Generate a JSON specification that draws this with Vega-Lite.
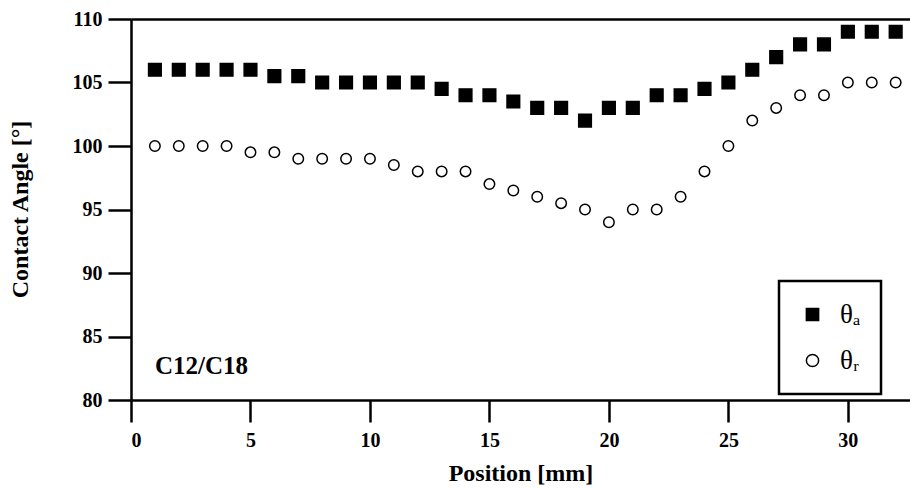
{
  "$schema": "https://vega.github.io/schema/vega-lite/v6.json",
  "width": 779,
  "height": 381,
  "autosize": "none",
  "padding": {"left": 131, "top": 19, "right": 0, "bottom": 88},
  "background": "white",
  "config": {
    "view": {"stroke": null},
    "font": "Liberation Serif",
    "axis": {
      "domainColor": "black", "domainWidth": 2.5, "tickColor": "black", "tickWidth": 2.5,
      "labelColor": "black", "labelFont": "Liberation Serif", "labelFontWeight": "bold", "labelFontSize": 20,
      "titleColor": "black", "titleFont": "Liberation Serif", "titleFontWeight": "bold", "titleFontSize": 24,
      "grid": false
    },
    "legend": {
      "strokeColor": "black", "strokeWidth": 2.5, "fillColor": "white",
      "padding": 20, "rowPadding": 18, "labelFont": "Liberation Serif", "labelFontSize": 27, "labelColor": "black",
      "symbolSize": 150, "symbolStrokeColor": "black", "symbolStrokeWidth": 1.5, "labelOffset": 14
    }
  },
  "datasets": {
    "angles": [
      {"pos": 1, "angle": 106, "series": "θₐ"}, {"pos": 2, "angle": 106, "series": "θₐ"}, {"pos": 3, "angle": 106, "series": "θₐ"},
      {"pos": 4, "angle": 106, "series": "θₐ"}, {"pos": 5, "angle": 106, "series": "θₐ"}, {"pos": 6, "angle": 105.5, "series": "θₐ"},
      {"pos": 7, "angle": 105.5, "series": "θₐ"}, {"pos": 8, "angle": 105, "series": "θₐ"}, {"pos": 9, "angle": 105, "series": "θₐ"},
      {"pos": 10, "angle": 105, "series": "θₐ"}, {"pos": 11, "angle": 105, "series": "θₐ"}, {"pos": 12, "angle": 105, "series": "θₐ"},
      {"pos": 13, "angle": 104.5, "series": "θₐ"}, {"pos": 14, "angle": 104, "series": "θₐ"}, {"pos": 15, "angle": 104, "series": "θₐ"},
      {"pos": 16, "angle": 103.5, "series": "θₐ"}, {"pos": 17, "angle": 103, "series": "θₐ"}, {"pos": 18, "angle": 103, "series": "θₐ"},
      {"pos": 19, "angle": 102, "series": "θₐ"}, {"pos": 20, "angle": 103, "series": "θₐ"}, {"pos": 21, "angle": 103, "series": "θₐ"},
      {"pos": 22, "angle": 104, "series": "θₐ"}, {"pos": 23, "angle": 104, "series": "θₐ"}, {"pos": 24, "angle": 104.5, "series": "θₐ"},
      {"pos": 25, "angle": 105, "series": "θₐ"}, {"pos": 26, "angle": 106, "series": "θₐ"}, {"pos": 27, "angle": 107, "series": "θₐ"},
      {"pos": 28, "angle": 108, "series": "θₐ"}, {"pos": 29, "angle": 108, "series": "θₐ"}, {"pos": 30, "angle": 109, "series": "θₐ"},
      {"pos": 31, "angle": 109, "series": "θₐ"}, {"pos": 32, "angle": 109, "series": "θₐ"},
      {"pos": 1, "angle": 100, "series": "θᵣ"}, {"pos": 2, "angle": 100, "series": "θᵣ"}, {"pos": 3, "angle": 100, "series": "θᵣ"},
      {"pos": 4, "angle": 100, "series": "θᵣ"}, {"pos": 5, "angle": 99.5, "series": "θᵣ"}, {"pos": 6, "angle": 99.5, "series": "θᵣ"},
      {"pos": 7, "angle": 99, "series": "θᵣ"}, {"pos": 8, "angle": 99, "series": "θᵣ"}, {"pos": 9, "angle": 99, "series": "θᵣ"},
      {"pos": 10, "angle": 99, "series": "θᵣ"}, {"pos": 11, "angle": 98.5, "series": "θᵣ"}, {"pos": 12, "angle": 98, "series": "θᵣ"},
      {"pos": 13, "angle": 98, "series": "θᵣ"}, {"pos": 14, "angle": 98, "series": "θᵣ"}, {"pos": 15, "angle": 97, "series": "θᵣ"},
      {"pos": 16, "angle": 96.5, "series": "θᵣ"}, {"pos": 17, "angle": 96, "series": "θᵣ"}, {"pos": 18, "angle": 95.5, "series": "θᵣ"},
      {"pos": 19, "angle": 95, "series": "θᵣ"}, {"pos": 20, "angle": 94, "series": "θᵣ"}, {"pos": 21, "angle": 95, "series": "θᵣ"},
      {"pos": 22, "angle": 95, "series": "θᵣ"}, {"pos": 23, "angle": 96, "series": "θᵣ"}, {"pos": 24, "angle": 98, "series": "θᵣ"},
      {"pos": 25, "angle": 100, "series": "θᵣ"}, {"pos": 26, "angle": 102, "series": "θᵣ"}, {"pos": 27, "angle": 103, "series": "θᵣ"},
      {"pos": 28, "angle": 104, "series": "θᵣ"}, {"pos": 29, "angle": 104, "series": "θᵣ"}, {"pos": 30, "angle": 105, "series": "θᵣ"},
      {"pos": 31, "angle": 105, "series": "θᵣ"}, {"pos": 32, "angle": 105, "series": "θᵣ"}
    ],
    "note": [{"pos": 1, "angle": 82.7, "label": "C12/C18"}]
  },
  "layer": [
    {
      "data": {"name": "angles"},
      "transform": [{"filter": {"field": "series", "equal": "θₐ"}}],
      "mark": {"type": "point", "strokeWidth": 1.5, "opacity": 1, "size": 160},
      "encoding": {
        "x": {"field": "pos", "type": "quantitative", "scale": {"domain": [0, 32.6], "nice": false, "zero": false},
          "axis": {"values": [0, 5, 10, 15, 20, 25, 30], "tickSize": 22, "labelPadding": 8, "title": "Position [mm]",
            "titleBaseline": "alphabetic", "titleY": 80}},
        "y": {"field": "angle", "type": "quantitative", "scale": {"domain": [80, 110], "nice": false, "zero": false},
          "axis": {"values": [80, 85, 90, 95, 100, 105, 110], "tickSize": 23, "labelPadding": 6, "title": "Contact Angle [°]",
            "titleX": -99, "titleY": 190}},
        "shape": {"field": "series", "type": "nominal", "scale": {"domain": ["θₐ", "θᵣ"], "range": ["square", "circle"]},
          "legend": {"title": null, "orient": "none", "legendX": 648, "legendY": 262}},
        "fill": {"field": "series", "type": "nominal", "scale": {"domain": ["θₐ", "θᵣ"], "range": ["black", "white"]},
          "legend": {"title": null, "orient": "none", "legendX": 648, "legendY": 262}},
        "stroke": {"field": "series", "type": "nominal", "scale": {"domain": ["θₐ", "θᵣ"], "range": ["black", "black"]},
          "legend": {"title": null, "orient": "none", "legendX": 648, "legendY": 262}}
      }
    },
    {
      "data": {"name": "angles"},
      "transform": [{"filter": {"field": "series", "equal": "θᵣ"}}],
      "mark": {"type": "point", "strokeWidth": 1.5, "opacity": 1, "size": 110},
      "encoding": {
        "x": {"field": "pos", "type": "quantitative", "axis": null},
        "y": {"field": "angle", "type": "quantitative"},
        "shape": {"field": "series", "type": "nominal"},
        "fill": {"field": "series", "type": "nominal"},
        "stroke": {"field": "series", "type": "nominal"}
      }
    },
    {
      "data": {"name": "angles"},
      "mark": {"type": "point", "opacity": 0},
      "encoding": {
        "x": {"field": "pos", "type": "quantitative", "axis": {"orient": "top", "labels": false, "ticks": false, "title": null}},
        "y": {"field": "angle", "type": "quantitative"}
      }
    },
    {
      "data": {"name": "note"},
      "mark": {"type": "text", "align": "left", "baseline": "middle", "font": "Liberation Serif", "fontWeight": "bold", "fontSize": 25, "color": "black"},
      "encoding": {
        "x": {"field": "pos", "type": "quantitative", "axis": null},
        "y": {"field": "angle", "type": "quantitative"},
        "text": {"field": "label"}
      }
    }
  ],
  "resolve": {"axis": {"x": "independent"}}
}
